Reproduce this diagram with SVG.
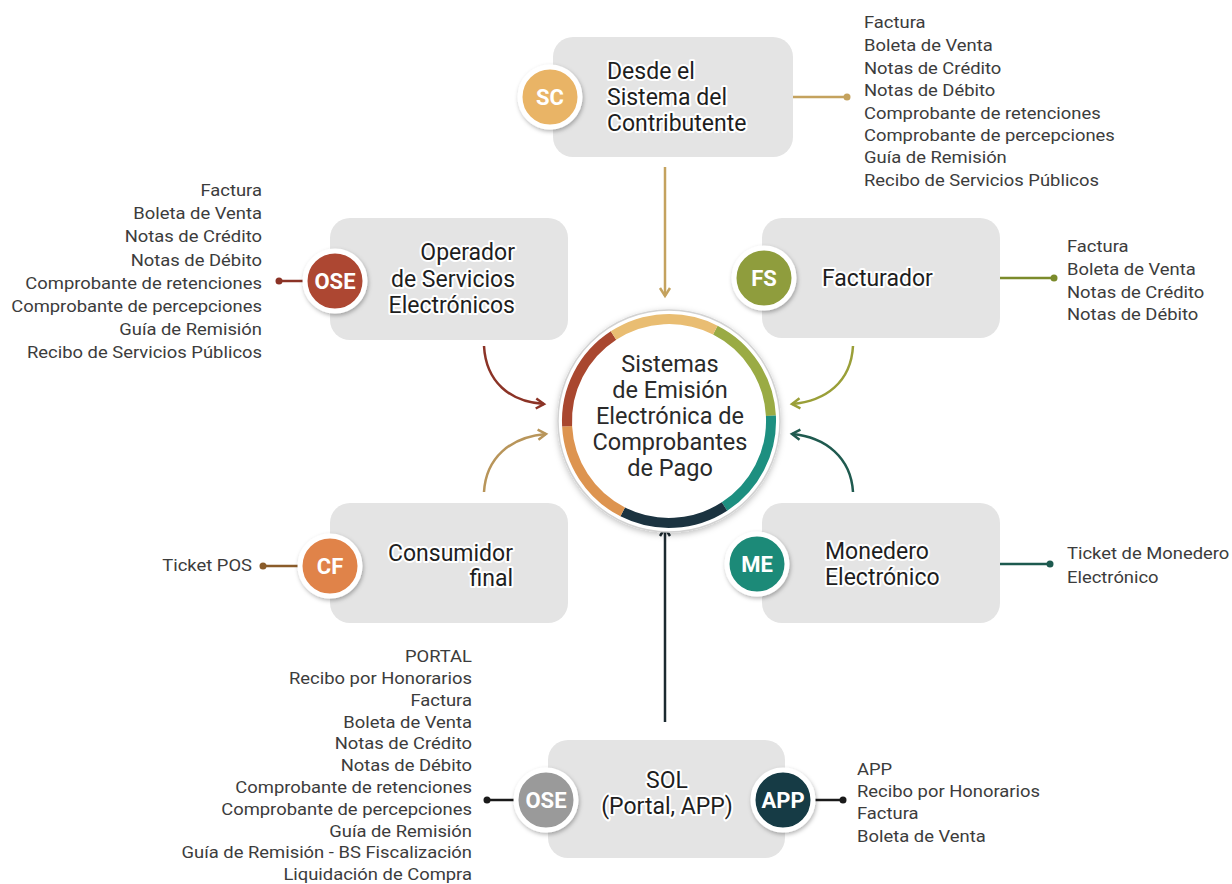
<svg xmlns="http://www.w3.org/2000/svg" width="1232" height="884" viewBox="0 0 1232 884">
  <defs>
    <style>
      .box{fill:#e4e4e4}
      .badge{stroke:#fff;stroke-width:5;filter:url(#sh)}
      .bl{font-family:Roboto,"Liberation Sans",sans-serif;font-weight:700;font-size:22px;fill:#fff;text-anchor:middle}
      .nl{font-family:Roboto,"Liberation Sans",sans-serif;font-size:23px;fill:#1e1e1e;stroke:#fff;stroke-width:4;stroke-linejoin:round;paint-order:stroke}
      .li{font-family:Roboto,"Liberation Sans",sans-serif;font-size:16px;fill:#3c3c3c}
      .ct{font-family:Roboto,"Liberation Sans",sans-serif;font-size:23.5px;fill:#2a2a2a;text-anchor:middle}
      .end{text-anchor:end}
      .mid{text-anchor:middle}
      .ln{fill:none;stroke-width:2.5}
      .ring{fill:none;stroke-width:10}
    </style>
    <filter id="sh" x="-30%" y="-30%" width="160%" height="160%">
      <feDropShadow dx="1" dy="2" stdDeviation="2" flood-color="#000" flood-opacity="0.3"/>
    </filter>
    <filter id="csh" x="-20%" y="-20%" width="140%" height="140%">
      <feDropShadow dx="0" dy="2" stdDeviation="3" flood-color="#000" flood-opacity="0.25"/>
    </filter>
    <marker id="aTan" markerUnits="userSpaceOnUse" markerWidth="14" markerHeight="14" refX="0" refY="0" viewBox="-10 -7 14 14" orient="auto"><path d="M-8,-5 L0,0 L-8,5" fill="none" stroke="#c4a25e" stroke-width="2.5"/></marker>
    <marker id="aRed" markerUnits="userSpaceOnUse" markerWidth="14" markerHeight="14" refX="0" refY="0" viewBox="-10 -7 14 14" orient="auto"><path d="M-8,-5 L0,0 L-8,5" fill="none" stroke="#8b3326" stroke-width="2.5"/></marker>
    <marker id="aOli" markerUnits="userSpaceOnUse" markerWidth="14" markerHeight="14" refX="0" refY="0" viewBox="-10 -7 14 14" orient="auto"><path d="M-8,-5 L0,0 L-8,5" fill="none" stroke="#9a9f38" stroke-width="2.5"/></marker>
    <marker id="aGld" markerUnits="userSpaceOnUse" markerWidth="14" markerHeight="14" refX="0" refY="0" viewBox="-10 -7 14 14" orient="auto"><path d="M-8,-5 L0,0 L-8,5" fill="none" stroke="#b8955a" stroke-width="2.5"/></marker>
    <marker id="aTea" markerUnits="userSpaceOnUse" markerWidth="14" markerHeight="14" refX="0" refY="0" viewBox="-10 -7 14 14" orient="auto"><path d="M-8,-5 L0,0 L-8,5" fill="none" stroke="#1f5a4f" stroke-width="2.5"/></marker>
    <marker id="aDrk" markerUnits="userSpaceOnUse" markerWidth="14" markerHeight="14" refX="0" refY="0" viewBox="-10 -7 14 14" orient="auto"><path d="M-8,-5 L0,0 L-8,5" fill="none" stroke="#1c2a30" stroke-width="2.5"/></marker>
  </defs>

  <rect width="1232" height="884" fill="#fff"/>

  <!-- connectors: flows into the centre and the leader lines to each list -->
  <g id="connectors">
    <line class="ln" x1="665" y1="167" x2="665" y2="296" stroke="#c4a25e" marker-end="url(#aTan)"/>
    <path class="ln" d="M484,346 C486,382 510,402 544,404" stroke="#8b3326" marker-end="url(#aRed)"/>
    <path class="ln" d="M853,346 C851,382 826,401 792,404" stroke="#9a9f38" marker-end="url(#aOli)"/>
    <path class="ln" d="M484,492 C486,458 510,437 546,434" stroke="#b8955a" marker-end="url(#aGld)"/>
    <path class="ln" d="M853,492 C851,458 826,437 792,434" stroke="#1f5a4f" marker-end="url(#aTea)"/>
    <line class="ln" x1="665" y1="722" x2="665" y2="528" stroke="#1c2a30" marker-end="url(#aDrk)"/>

    <g stroke-width="2.5">
      <line x1="793" y1="97" x2="847" y2="97" stroke="#c4a25e"/>
      <circle cx="847" cy="97" r="3.5" fill="#c4a25e"/>
      <line x1="305" y1="281" x2="279" y2="281" stroke="#8b3326"/>
      <circle cx="279" cy="281" r="3.5" fill="#8b3326"/>
      <line x1="1000" y1="278" x2="1054" y2="278" stroke="#7b8b2b"/>
      <circle cx="1054" cy="278" r="3.5" fill="#7b8b2b"/>
      <line x1="300" y1="566" x2="263" y2="566" stroke="#8a5c2a"/>
      <circle cx="263" cy="566" r="3.5" fill="#8a5c2a"/>
      <line x1="1000" y1="564" x2="1050" y2="564" stroke="#1d5a4f"/>
      <circle cx="1050" cy="564" r="3.5" fill="#1d5a4f"/>
      <line x1="516" y1="800" x2="487" y2="800" stroke="#1a1a1a"/>
      <circle cx="487" cy="800" r="3.5" fill="#1a1a1a"/>
      <line x1="813" y1="800" x2="843" y2="800" stroke="#1a1a1a"/>
      <circle cx="843" cy="800" r="3.5" fill="#1a1a1a"/>
    </g>
  </g>

  <!-- centre: ring of six coloured arcs -->
  <g id="center">
    <circle cx="669" cy="421" r="111" fill="#fff" stroke="#d2d2d2" stroke-width="1.5" filter="url(#csh)"/>
    <path class="ring" stroke="#9aab44" d="M715.3,330.1 A102,102 0 0 1 770.9,415.7"/>
    <path class="ring" stroke="#1d8f80" d="M770.9,415.7 A102,102 0 0 1 724.5,506.5"/>
    <path class="ring" stroke="#1b3340" d="M724.5,506.5 A102,102 0 0 1 622.7,511.9"/>
    <path class="ring" stroke="#dd9450" d="M622.7,511.9 A102,102 0 0 1 567.1,426.3"/>
    <path class="ring" stroke="#a9472f" d="M567.1,426.3 A102,102 0 0 1 613.5,335.5"/>
    <path class="ring" stroke="#e9bd72" d="M613.5,335.5 A102,102 0 0 1 715.3,330.1"/>
    <text class="ct" x="670" y="372">Sistemas</text>
    <text class="ct" x="670" y="398">de Emisión</text>
    <text class="ct" x="670" y="424">Electrónica de</text>
    <text class="ct" x="670" y="450">Comprobantes</text>
    <text class="ct" x="670" y="476">de Pago</text>
  </g>

  <!-- SC -->
  <g id="node-sc">
    <rect class="box" x="553" y="37" width="240" height="120" rx="20"/>
    <circle class="badge" cx="550" cy="97" r="30" fill="#e9b466"/>
    <text class="bl" x="550" y="105">SC</text>
    <text class="nl" x="607" y="79">Desde el</text>
    <text class="nl" x="607" y="105">Sistema del</text>
    <text class="nl" x="607" y="131">Contributente</text>
    <g transform="translate(864 0) scale(1.15 1)">
      <text class="li" x="0" y="28">Factura</text>
      <text class="li" x="0" y="51">Boleta de Venta</text>
      <text class="li" x="0" y="74">Notas de Crédito</text>
      <text class="li" x="0" y="96">Notas de Débito</text>
      <text class="li" x="0" y="119">Comprobante de retenciones</text>
      <text class="li" x="0" y="141">Comprobante de percepciones</text>
      <text class="li" x="0" y="163">Guía de Remisión</text>
      <text class="li" x="0" y="186">Recibo de Servicios Públicos</text>
    </g>
  </g>

  <!-- OSE -->
  <g id="node-ose">
    <rect class="box" x="330" y="218" width="238" height="122" rx="20"/>
    <circle class="badge" cx="335" cy="281" r="30" fill="#ad4733"/>
    <text class="bl" x="335" y="289">OSE</text>
    <text class="nl end" x="515" y="260">Operador</text>
    <text class="nl end" x="515" y="287">de Servicios</text>
    <text class="nl end" x="515" y="313">Electrónicos</text>
    <g transform="translate(262 0) scale(1.15 1)">
      <text class="li end" x="0" y="196">Factura</text>
      <text class="li end" x="0" y="219">Boleta de Venta</text>
      <text class="li end" x="0" y="242">Notas de Crédito</text>
      <text class="li end" x="0" y="266">Notas de Débito</text>
      <text class="li end" x="0" y="289">Comprobante de retenciones</text>
      <text class="li end" x="0" y="312">Comprobante de percepciones</text>
      <text class="li end" x="0" y="335">Guía de Remisión</text>
      <text class="li end" x="0" y="358">Recibo de Servicios Públicos</text>
    </g>
  </g>

  <!-- FS -->
  <g id="node-fs">
    <rect class="box" x="762" y="218" width="238" height="120" rx="20"/>
    <circle class="badge" cx="764" cy="278" r="30" fill="#8f9d3e"/>
    <text class="bl" x="764" y="286">FS</text>
    <text class="nl" x="822" y="286">Facturador</text>
    <g transform="translate(1067 0) scale(1.15 1)">
      <text class="li" x="0" y="252">Factura</text>
      <text class="li" x="0" y="275">Boleta de Venta</text>
      <text class="li" x="0" y="298">Notas de Crédito</text>
      <text class="li" x="0" y="320">Notas de Débito</text>
    </g>
  </g>

  <!-- CF -->
  <g id="node-cf">
    <rect class="box" x="330" y="503" width="238" height="120" rx="20"/>
    <circle class="badge" cx="330" cy="566" r="30" fill="#e0834a"/>
    <text class="bl" x="330" y="574">CF</text>
    <text class="nl end" x="513" y="561">Consumidor</text>
    <text class="nl end" x="513" y="586">final</text>
    <g transform="translate(252 0) scale(1.15 1)">
      <text class="li end" x="0" y="571">Ticket POS</text>
    </g>
  </g>

  <!-- ME -->
  <g id="node-me">
    <rect class="box" x="762" y="503" width="238" height="120" rx="20"/>
    <circle class="badge" cx="757" cy="564" r="30" fill="#1f8a78"/>
    <text class="bl" x="757" y="572">ME</text>
    <text class="nl" x="825" y="559">Monedero</text>
    <text class="nl" x="825" y="585">Electrónico</text>
    <g transform="translate(1067 0) scale(1.15 1)">
      <text class="li" x="0" y="559">Ticket de Monedero</text>
      <text class="li" x="0" y="583">Electrónico</text>
    </g>
  </g>

  <!-- SOL -->
  <g id="node-sol">
    <rect class="box" x="548" y="740" width="237" height="118" rx="20"/>
    <circle class="badge" cx="546" cy="800" r="30" fill="#9a9a9a"/>
    <text class="bl" x="546" y="808">OSE</text>
    <circle class="badge" cx="783" cy="800" r="30" fill="#133a44"/>
    <text class="bl" x="783" y="808">APP</text>
    <text class="nl mid" x="667" y="788">SOL</text>
    <text class="nl mid" x="667" y="814">(Portal, APP)</text>
    <g transform="translate(472 0) scale(1.15 1)">
      <text class="li end" x="0" y="662">PORTAL</text>
      <text class="li end" x="0" y="684">Recibo por Honorarios</text>
      <text class="li end" x="0" y="706">Factura</text>
      <text class="li end" x="0" y="728">Boleta de Venta</text>
      <text class="li end" x="0" y="749">Notas de Crédito</text>
      <text class="li end" x="0" y="771">Notas de Débito</text>
      <text class="li end" x="0" y="793">Comprobante de retenciones</text>
      <text class="li end" x="0" y="815">Comprobante de percepciones</text>
      <text class="li end" x="0" y="837">Guía de Remisión</text>
      <text class="li end" x="0" y="858">Guía de Remisión - BS Fiscalización</text>
      <text class="li end" x="0" y="880">Liquidación de Compra</text>
    </g>
    <g transform="translate(857 0) scale(1.15 1)">
      <text class="li" x="0" y="775">APP</text>
      <text class="li" x="0" y="797">Recibo por Honorarios</text>
      <text class="li" x="0" y="819">Factura</text>
      <text class="li" x="0" y="842">Boleta de Venta</text>
    </g>
  </g>
</svg>
